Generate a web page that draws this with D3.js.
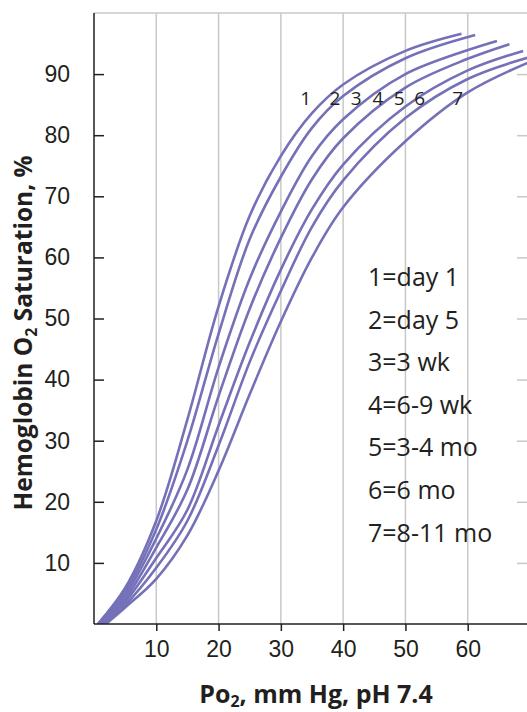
<!DOCTYPE html>
<html>
<head>
<meta charset="utf-8">
<script src="https://cdn.jsdelivr.net/npm/d3@7"></script>
<style>
  body { margin: 0; background: #fff; }
  svg { display: block; font-family: "Open Sans", "Noto Sans", sans-serif; }
</style>
</head>
<body>
<svg width="527" height="712"></svg>
<script>
var curve1 = [[0.6,0],[5,5.9],[10,16.9],[15,33.5],[20,52],[25,66.8],[30,76.6],[35,83.6],[40,88.3],[50,93.8],[59,96.6]];
var curve2 = [[0.8,0],[5,5.3],[10,15.5],[15,30.0],[20,47.5],[25,63],[30,73.2],[35,81.2],[40,86.4],[50,92.6],[61.2,96.4]];
var curve3 = [[1.0,0],[5,4.7],[10,14.0],[15,25.3],[20,42],[25,56.5],[30,67.5],[35,76.6],[40,82.6],[50,90.0],[64.7,95.4]];
var curve4 = [[1.2,0],[5,4.1],[10,12.5],[15,22.0],[20,37.3],[25,51.6],[30,63.2],[35,72.8],[40,79.5],[50,87.8],[60,92.5],[66.7,94.9]];
var curve5 = [[1.4,0],[5,3.6],[10,10.8],[15,18.7],[20,32.5],[25,46.1],[30,58],[35,67.9],[40,75.2],[50,84.7],[60,90.6],[68.9,93.8]];
var curve6 = [[1.6,0],[5,3.1],[10,9.2],[15,16.9],[20,29.2],[25,42.9],[30,54.5],[35,65],[40,72.6],[50,82.8],[60,89.2],[70,92.8]];
var curve7 = [[1.9,0],[5,2.7],[10,7.4],[15,14.5],[20,25.1],[25,37.6],[30,49.5],[35,60],[40,68.2],[50,79],[60,87],[70,92.0]];
var curves = [curve1, curve2, curve3, curve4, curve5, curve6, curve7];

var curveNames = ["1", "2", "3", "4", "5", "6", "7"];
// where the curve numbers sit (PO2, saturation)
var nameX = [34.0, 38.7, 42.1, 45.6, 49.0, 52.3, 58.4];
var nameY = 86.1;

var legendItems = ["1=day 1", "2=day 5", "3=3 wk", "4=6-9 wk", "5=3-4 mo", "6=6 mo", "7=8-11 mo"];

var xTicks = [10, 20, 30, 40, 50, 60];
var yTicks = [10, 20, 30, 40, 50, 60, 70, 80, 90];

var width = 527;
var height = 712;
var margin = {left: 94, top: 13, right: -3, bottom: 88};

var ink = "#231f20";
var grid = "#c8c8c8";
var lineColor = "#7471b8";

var xScale = d3.scaleLinear().domain([0, 70]).range([margin.left, width - margin.right]);
var yScale = d3.scaleLinear().domain([0, 100]).range([height - margin.bottom, margin.top]);

var svg = d3.select("svg");

svg.append("clipPath").attr("id", "plot")
  .append("rect")
  .attr("x", margin.left).attr("y", 0)
  .attr("width", width - margin.left - margin.right).attr("height", height - margin.bottom);

// vertical grid lines
svg.selectAll(".grid")
  .data(xTicks)
  .enter()
  .append("line")
  .attr("class", "grid")
  .attr("x1", xScale).attr("x2", xScale)
  .attr("y1", yScale(100)).attr("y2", yScale(0))
  .attr("stroke", grid)
  .attr("stroke-width", 1.5);

// top border
svg.append("line")
  .attr("x1", xScale(0)).attr("x2", xScale(70))
  .attr("y1", yScale(100)).attr("y2", yScale(100))
  .attr("stroke", grid)
  .attr("stroke-width", 1.5);

// gray ticks on the right side
svg.append("g")
  .attr("transform", "translate(" + xScale(70) + ",0)")
  .call(d3.axisRight(yScale).tickValues(yTicks).tickSize(-13).tickFormat(""))
  .call(function (g) {
    g.select(".domain").remove();
    g.selectAll("line").attr("stroke", grid).attr("stroke-width", 1.5);
  });

var line = d3.line()
  .x(function (d) { return xScale(d[0]); })
  .y(function (d) { return yScale(d[1]); })
  .curve(d3.curveCatmullRom.alpha(0.5));

svg.append("g")
  .attr("clip-path", "url(#plot)")
  .selectAll("path")
  .data(curves)
  .enter()
  .append("path")
  .attr("d", line)
  .attr("fill", "none")
  .attr("stroke", lineColor)
  .attr("stroke-width", 2.6);

// axes
var axisBottom = d3.axisBottom(xScale).tickValues(xTicks).tickSize(7).tickPadding(10);
var axisLeft = d3.axisLeft(yScale).tickValues(yTicks).tickSize(-10).tickPadding(24);

svg.append("g")
  .attr("transform", "translate(0," + yScale(0) + ")")
  .call(axisBottom)
  .call(function (g) {
    g.select(".domain").attr("d", "M" + xScale(0) + ",0H" + (width + 5)).attr("stroke", ink).attr("stroke-width", 1.5);
    g.selectAll("line").attr("stroke", ink).attr("stroke-width", 1.5);
    g.selectAll("text").attr("fill", ink).style("font-size", "23px").style("font-family", null);
  });

svg.append("g")
  .attr("transform", "translate(" + xScale(0) + ",0)")
  .call(axisLeft)
  .call(function (g) {
    g.select(".domain").attr("d", "M0," + yScale(100) + "V" + yScale(0)).attr("stroke", ink).attr("stroke-width", 1.5);
    g.selectAll("line").attr("stroke", ink).attr("stroke-width", 1.5);
    g.selectAll("text").attr("fill", ink).style("font-size", "23px").style("font-family", null);
  });

// numbers on the curves
svg.selectAll(".cname")
  .data(curveNames)
  .enter()
  .append("text")
  .attr("class", "cname")
  .attr("x", function (d, i) { return xScale(nameX[i]); })
  .attr("y", yScale(nameY))
  .attr("dy", "0.35em")
  .attr("text-anchor", "middle")
  .attr("fill", ink)
  .style("font-size", "19px")
  .text(function (d) { return d; });

// legend
svg.selectAll(".legend")
  .data(legendItems)
  .enter()
  .append("text")
  .attr("class", "legend")
  .attr("x", 368)
  .attr("y", function (d, i) { return 286 + i * 42.6; })
  .attr("fill", ink)
  .style("font-size", "25px")
  .text(function (d) { return d; });

// text label for the y axis
var yTitle = svg.append("text")
  .attr("transform", "translate(32,333) rotate(-90)")
  .attr("text-anchor", "middle")
  .attr("fill", ink)
  .style("font-size", "24.5px")
  .style("font-weight", "bold");
yTitle.append("tspan").text("Hemoglobin O");
yTitle.append("tspan").attr("dy", 5).style("font-size", "16px").text("2");
yTitle.append("tspan").attr("dy", -5).text(" Saturation, %");

// text label for the x axis
var xTitle = svg.append("text")
  .attr("x", 316)
  .attr("y", 703)
  .attr("text-anchor", "middle")
  .attr("fill", ink)
  .style("font-size", "25px")
  .style("font-weight", "bold");
xTitle.append("tspan").text("Po");
xTitle.append("tspan").attr("dy", 4).style("font-size", "16px").text("2");
xTitle.append("tspan").attr("dy", -4).text(", mm Hg, pH 7.4");
</script>
</body>
</html>
